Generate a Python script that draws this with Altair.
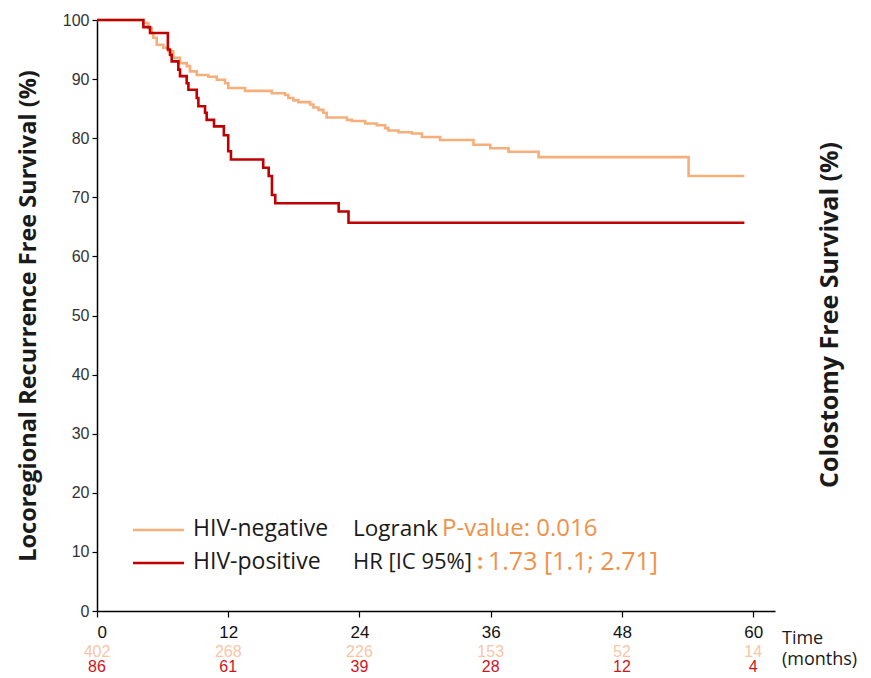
import altair as alt
import pandas as pd

# ---------------- data ----------------
neg_time = [0, 4.24, 4.69, 5.0, 5.15, 5.46, 6.07, 6.52, 6.98, 7.59,
            8.21, 8.51, 9.12, 10.18, 10.95, 11.71, 12.01, 13.54, 15.98, 17.2,
            17.5, 17.96, 18.42, 19.49, 19.79, 20.25, 20.7, 21.0, 22.85, 23.3,
            24.52, 25.59, 26.35, 26.65, 27.57, 28.79, 29.71, 31.38, 34.43, 35.96,
            37.63, 40.38, 54.1, 59.2]
neg_surv = [100, 99.5, 98.6, 97.8, 97.0, 95.8, 95.3, 94.7, 93.6, 92.7,
            92.2, 91.3, 90.7, 90.4, 89.9, 89.3, 88.5, 88.0, 87.6, 87.3,
            86.8, 86.4, 86.1, 85.7, 85.2, 84.8, 84.3, 83.5, 83.1, 82.9,
            82.5, 82.2, 81.7, 81.3, 81.0, 80.8, 80.2, 79.7, 78.9, 78.3,
            77.7, 76.8, 73.6, 73.6]

pos_time = [0, 4.24, 4.85, 6.48, 6.68, 6.83, 7.44, 7.59, 8.2, 8.36,
            9.12, 9.27, 9.88, 10.03, 10.7, 11.6, 12.0, 12.25, 15.2, 15.7,
            16.0, 16.3, 22.1, 23.0, 59.2]
pos_surv = [100, 98.8, 97.8, 95.0, 94.1, 93.0, 91.6, 90.5, 89.3, 88.2,
            86.8, 85.4, 84.3, 83.1, 82.0, 80.5, 77.8, 76.4, 75.0, 73.6,
            70.4, 69.0, 67.6, 65.7, 65.7]

x_ticks = [0, 12, 24, 36, 48, 60]
y_ticks = [0, 10, 20, 30, 40, 50, 60, 70, 80, 90, 100]

risk_times = [0, 12, 24, 36, 48, 60]
neg_risk = [402, 268, 226, 153, 52, 14]
pos_risk = [86, 61, 39, 28, 12, 4]

legend_labels = ["HIV-negative", "HIV-positive"]
stat_black = ["Logrank", "HR [IC 95%]"]
stat_orange = ["P-value: 0.016", "1.73 [1.1; 2.71]"]
y_title = "Locoregional Recurrence Free Survival (%)"
right_title = ["Colostomy Free Survival (%)"]
time_label = ["Time", "(months)"]

# ---------------- styling ----------------
ORANGE = "#F6AE7B"
ORANGE_TXT = "#F0914A"
ORANGE_RISK = "#F8C6A6"
RED = "#C00000"
RED_RISK = "#D0141C"
INK = "#1a1a1a"
SANS = "Open Sans"
NUMF = "Liberation Sans"

W, H = 678, 591
x_scale = alt.Scale(domain=[0, 62], nice=False, zero=False)
y_scale = alt.Scale(domain=[0, 100], nice=False)

x_axis = alt.Axis(values=x_ticks, title=None, grid=False, domainColor="#000",
                  domainWidth=1.5, tickColor="#000", tickWidth=1.2, tickSize=6,
                  labelFont=NUMF, labelFontSize=17, labelColor="#111",
                  labelPadding=7)
y_axis = alt.Axis(values=y_ticks, title=y_title, grid=False, domainColor="#000",
                  domainWidth=1.5, tickColor="#000", tickWidth=1.2, tickSize=5,
                  labelFont=NUMF, labelFontSize=16, labelColor="#333",
                  labelPadding=3, titleFont=SANS, titleFontSize=23.5,
                  titleFontWeight="bold", titleColor=INK, titlePadding=22)

neg_df = pd.DataFrame({"time": neg_time, "surv": neg_surv})
pos_df = pd.DataFrame({"time": pos_time, "surv": pos_surv})

neg_line = alt.Chart(neg_df).mark_line(
    interpolate="step-after", color=ORANGE, strokeWidth=2.6
).encode(
    x=alt.X("time:Q", scale=x_scale, axis=x_axis),
    y=alt.Y("surv:Q", scale=y_scale, axis=y_axis),
)
pos_line = alt.Chart(pos_df).mark_line(
    interpolate="step-after", color=RED, strokeWidth=2.6
).encode(
    x=alt.X("time:Q", scale=x_scale),
    y=alt.Y("surv:Q", scale=y_scale),
)

neg_risk_txt = alt.Chart(pd.DataFrame({"time": risk_times, "n": neg_risk})).mark_text(
    font=NUMF, fontSize=16, color=ORANGE_RISK, baseline="middle", align="center"
).encode(x=alt.X("time:Q", scale=x_scale), y=alt.value(632), text="n:Q")
pos_risk_txt = alt.Chart(pd.DataFrame({"time": risk_times, "n": pos_risk})).mark_text(
    font=NUMF, fontSize=16, color=RED_RISK, baseline="middle", align="center"
).encode(x=alt.X("time:Q", scale=x_scale), y=alt.value(647), text="n:Q")


def legend_entry(label, color, ypix):
    base = alt.Chart(pd.DataFrame({"label": [label]}))
    rule = base.mark_rule(color=color, strokeWidth=2.6).encode(
        x=alt.value(36), x2=alt.value(87), y=alt.value(ypix + 1))
    txt = base.mark_text(align="left", baseline="middle", font=SANS, fontSize=23,
                         color=INK).encode(
        x=alt.value(96), y=alt.value(ypix), text="label:N")
    return [rule, txt]


def text_at(s, x, y, color, size=22, weight="normal", font=SANS, align="left", angle=0):
    return alt.Chart(pd.DataFrame({"t": [s]})).mark_text(
        align=align, baseline="middle", font=font, fontSize=size, color=color,
        fontWeight=weight, angle=angle
    ).encode(x=alt.value(x), y=alt.value(y), text="t:N")


layers = [neg_line, pos_line, neg_risk_txt, pos_risk_txt]
layers += legend_entry(legend_labels[0], ORANGE, 509)
layers += legend_entry(legend_labels[1], RED, 542)
layers += [
    text_at(stat_black[0], 256, 509, INK, size=22.5),
    text_at(stat_orange[0], 345, 509, ORANGE_TXT, size=24),
    text_at(stat_black[1], 256, 542, INK, size=22),
    text_at(":", 380, 542, ORANGE_TXT, size=22, weight="bold"),
    text_at(stat_orange[1], 391, 542, ORANGE_TXT, size=25),
    text_at(time_label[0], 685, 619, INK, size=18),
    text_at(time_label[1], 685, 640, INK, size=18),
    text_at(right_title[0], 733, 295, INK, size=25, weight="bold",
            align="center", angle=270),
]

chart = alt.layer(*layers).properties(
    width=W, height=H,
    padding={"left": 89, "top": 12, "right": 88, "bottom": 65},
    autosize=alt.AutoSizeParams(type="none"),
).configure_view(stroke=None)

chart.save("out.html", embed_options={"renderer": "svg", "actions": False})
